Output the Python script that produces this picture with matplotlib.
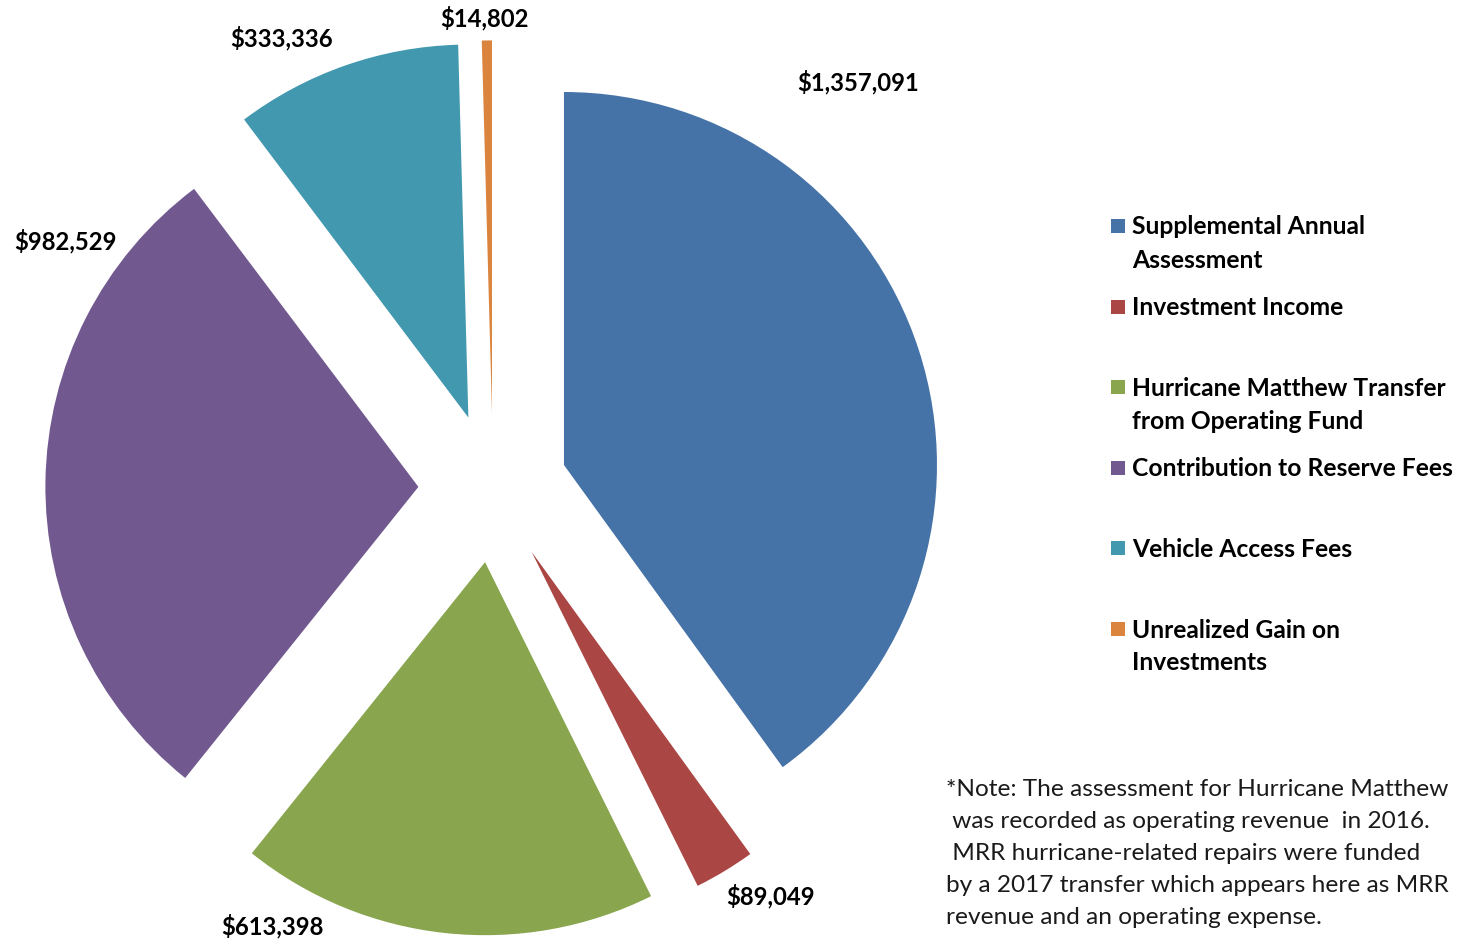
import matplotlib
matplotlib.use("Agg")
import matplotlib.pyplot as plt
from matplotlib.patches import Rectangle

# Revenue categories and amounts
categories = [
    "Supplemental Annual\nAssessment",
    "Investment Income",
    "Hurricane Matthew Transfer\nfrom Operating Fund",
    "Contribution to Reserve Fees",
    "Vehicle Access Fees",
    "Unrealized Gain on\nInvestments",
]
values = [1357091, 89049, 613398, 982529, 333336, 14802]
colors = ["#4572A7", "#AA4643", "#89A54E", "#71588F", "#4198AF", "#DB843D"]

# Where each value label sits (data units, pie radius = 1)
label_pos = [(0.979, 1.088), (0.745, -1.094), (-0.592, -1.174),
             (-1.147, 0.662), (-0.568, 1.206), (-0.024, 1.260)]

note_lines = [
    "*Note: The assessment for Hurricane Matthew",
    " was recorded as operating revenue  in 2016.",
    " MRR hurricane-related repairs were funded",
    "by a 2017 transfer which appears here as MRR",
    "revenue and an operating expense.",
]

W, H = 1465, 940
R = 373.0          # pie radius in pixels
cx, cy = 493, 488  # pie centre in pixels (from top-left)

fig = plt.figure(figsize=(W / 100, H / 100), dpi=100)
ax = fig.add_axes([0, 0, 1, 1])

ax.pie(values, colors=colors, startangle=90, counterclock=False,
       explode=[0.2] * len(values), radius=1.0,
       wedgeprops=dict(linewidth=0))
ax.set_xlim(-cx / R, (W - cx) / R)
ax.set_ylim(-(H - cy) / R, cy / R)
ax.set_aspect("auto")
ax.axis("off")

font = "Lato"
for v, (x, y) in zip(values, label_pos):
    ax.text(x, y, f"${v:,.0f}", ha="center", va="center",
            fontsize=17.2, fontweight="bold", family=font, color="black")


def fy(py):
    return 1 - py / H


# Legend: fixed-height slots, one text per line
slot0 = 227
step = 80.6
line_h = 33
sq = 14
for i, (lab, col) in enumerate(zip(categories, colors)):
    ytop = slot0 + step * i
    fig.patches.append(Rectangle((1111 / W, fy(ytop - 1 + sq / 2)), sq / W, sq / H,
                                 transform=fig.transFigure, facecolor=col,
                                 edgecolor="none"))
    for j, line in enumerate(lab.split("\n")):
        fig.text(1132 / W, fy(ytop + line_h * j), line, ha="left", va="center",
                 fontsize=17.7, fontweight="bold", family=font, color="black")

# Footnote
for k, line in enumerate(note_lines):
    fig.text(946 / W, fy(789 + 32 * k), line, ha="left", va="center",
             fontsize=17.6, family=font, color="#1a1a1a")

fig.savefig("out.png", dpi=100, facecolor="white")
